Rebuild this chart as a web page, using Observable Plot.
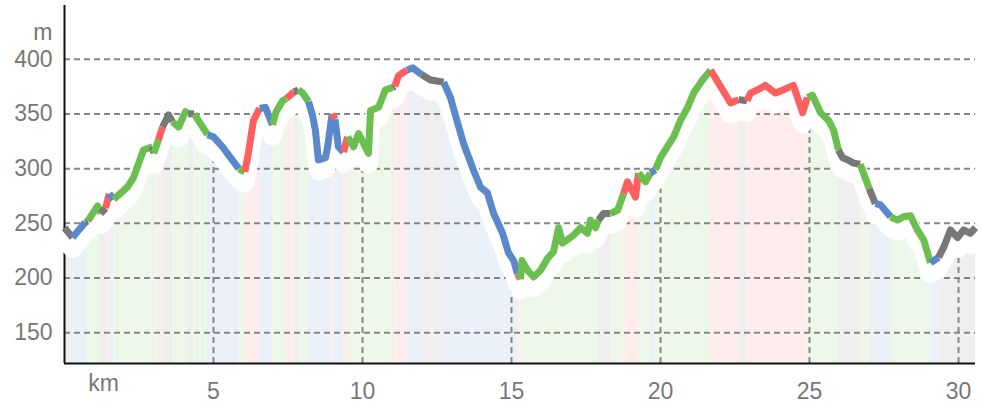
<!DOCTYPE html>
<html><head><meta charset="utf-8">
<script src="https://cdn.jsdelivr.net/npm/d3@7"></script>
<script src="https://cdn.jsdelivr.net/npm/@observablehq/plot@0.6"></script>
<style>body{margin:0;background:#fff}svg{display:block}</style>
</head><body><div id="chart"></div>
<script>
// distance along route (km)
const km = [0.00,0.27,0.70,0.78,1.11,1.21,1.38,1.50,1.65,2.11,2.32,2.65,2.95,3.00,3.15,3.29,3.49,3.62,3.83,4.06,4.15,4.35,4.56,4.80,5.00,5.30,5.57,5.85,6.05,6.17,6.34,6.55,6.74,6.98,7.10,7.32,7.45,7.70,7.85,7.99,8.19,8.32,8.42,8.52,8.76,8.83,8.98,9.08,9.19,9.36,9.50,9.70,9.87,10.20,10.27,10.54,10.77,11.01,11.08,11.21,11.38,11.50,11.68,11.88,11.98,12.28,12.50,12.72,12.95,13.19,13.39,13.72,13.96,14.19,14.40,14.70,14.90,15.07,15.20,15.30,15.35,15.54,15.74,15.97,16.21,16.41,16.58,16.71,17.08,17.32,17.55,17.65,17.82,17.92,18.09,18.32,18.56,18.76,18.89,19.16,19.26,19.50,19.66,19.83,20.00,20.23,20.44,20.67,20.91,21.11,21.41,21.68,22.08,22.35,22.62,22.90,23.02,23.26,23.52,23.86,24.13,24.46,24.77,24.93,25.10,25.37,25.64,25.81,25.97,26.11,26.28,26.48,26.70,26.81,27.00,27.21,27.38,27.72,27.95,28.15,28.39,28.62,28.83,29.06,29.33,29.50,29.73,29.97,30.17,30.40,30.57];
// elevation (m)
const ele = [246,237,251,252,266,259,264,277,272,283,292,317,320,314,326,338,349,343,338,352,350,350,341,331,329,320,310,300,297,314,344,355,356,340,352,362,364,370,372,369,361,349,335,308,310,320,350,345,320,315,329,320,332,314,353,356,372,374,375,385,388,390,392,388,386,381,380,379,365,342,323,299,283,278,259,241,223,216,204,199,216,207,201,207,218,224,246,232,239,246,241,253,246,253,259,259,262,277,288,274,296,288,296,299,310,320,329,344,356,369,381,390,372,360,363,362,369,372,376,369,372,376,351,365,367,351,344,335,317,310,308,305,304,296,282,268,267,256,253,256,257,244,235,214,219,228,244,237,244,241,246];
// segment class starting at each point: K grey, B blue, G green, R red
const cat = ["K","B","K","G","G","K","R","B","G","G","G","G","K","G","R","K","K","G","G","G","K","G","G","B","B","B","B","G","R","R","R","B","B","G","G","G","R","K","G","G","B","B","B","B","B","B","R","B","B","R","G","G","G","G","G","G","G","K","R","R","R","B","B","B","K","K","K","B","B","B","B","B","B","B","B","B","B","B","R","G","G","G","G","G","G","G","G","G","G","G","G","G","G","K","K","G","G","R","R","R","G","G","B","G","G","G","G","G","G","G","G","R","R","R","K","R","R","R","R","R","R","R","R","G","G","G","G","G","K","K","K","K","G","G","K","B","B","G","G","G","G","G","G","B","K","K","K","K","K","K","K"];
const classes = ["K","B","G","R"];
const classColors = ["#777777","#5a88cb","#6abf4f","#ff5f5f"];
const yTicks = [150,200,250,300,350,400];
const xTicks = [5,10,15,20,25,30];

const lineColor = Object.fromEntries(classes.map((c,i)=>[c,classColors[i]]));
const bandColor = Object.fromEntries(classes.map((c,i)=>[c,d3.interpolateRgb("white",classColors[i])(0.12)]));

const pts = km.map((k,i)=>({km:k, ele:ele[i], cat:cat[i]}));
// split into runs of equal class, each run ending at the next run's first point
const runs = [];
let run = 0;
for (let i = 0; i < pts.length - 1; i++) {
  if (i > 0 && cat[i] !== cat[i-1]) run++;
  runs.push({km: pts[i].km, ele: pts[i].ele, cat: cat[i], run});
  if (i === pts.length - 2 || cat[i+1] !== cat[i]) runs.push({km: pts[i+1].km, ele: pts[i+1].ele, cat: cat[i], run});
}
const yMin = 122, yMax = 449;
const bis = d3.bisector(d=>d).left;
function eleAt(k){ const j = Math.max(1, bis(km,k)); const t=(k-km[j-1])/(km[j]-km[j-1]); return ele[j-1]+t*(ele[j]-ele[j-1]); }

const dash = {stroke:"#858585", strokeOpacity:1, strokeWidth:2, strokeDasharray:"6,4"};
const chart = Plot.plot({
  width: 983, height: 405,
  marginLeft: 64, marginRight: 8, marginTop: 5, marginBottom: 42,
  style: {fontFamily: "'Liberation Sans', Arial, sans-serif", background: "white"},
  x: {domain: [0, 30.57]},
  y: {domain: [yMin, yMax]},
  color: {type: "identity"},
  marks: [
    Plot.areaY(runs, {x: "km", y1: yMin, y2: "ele", z: "run", fill: d => bandColor[d.cat]}),
    Plot.gridY(yTicks, dash),
    Plot.ruleX(xTicks, {x: d=>d, y1: yMin, y2: d=>eleAt(d), ...dash}),
    Plot.ruleY([yMin], {stroke: "#111", strokeWidth: 2}),
    Plot.ruleX([0], {stroke: "#111", strokeWidth: 2}),
    Plot.line(pts, {x: "km", y: "ele", stroke: "white", strokeWidth: 19, dy: 11}),
    Plot.line(runs, {x: "km", y: "ele", z: "run", stroke: d => lineColor[d.cat], strokeWidth: 7, strokeLinecap: "butt"}),
    Plot.axisY(yTicks, {tickSize: 0, tickPadding: 12, fontSize: 23, fill: "#777", label: null}),
    Plot.axisX(xTicks, {tickSize: 0, tickPadding: 19, fontSize: 23, fill: "#777", label: null}),
    Plot.text(["m"], {frameAnchor: "top-left", dx: -12, dy: 18, textAnchor: "end", fontSize: 23, fill: "#777"}),
    Plot.text(["km"], {frameAnchor: "bottom-left", dx: 39, dy: 27, textAnchor: "middle", fontSize: 23, fill: "#777"})
  ]
});
document.getElementById("chart").append(chart);
</script>
</body></html>
